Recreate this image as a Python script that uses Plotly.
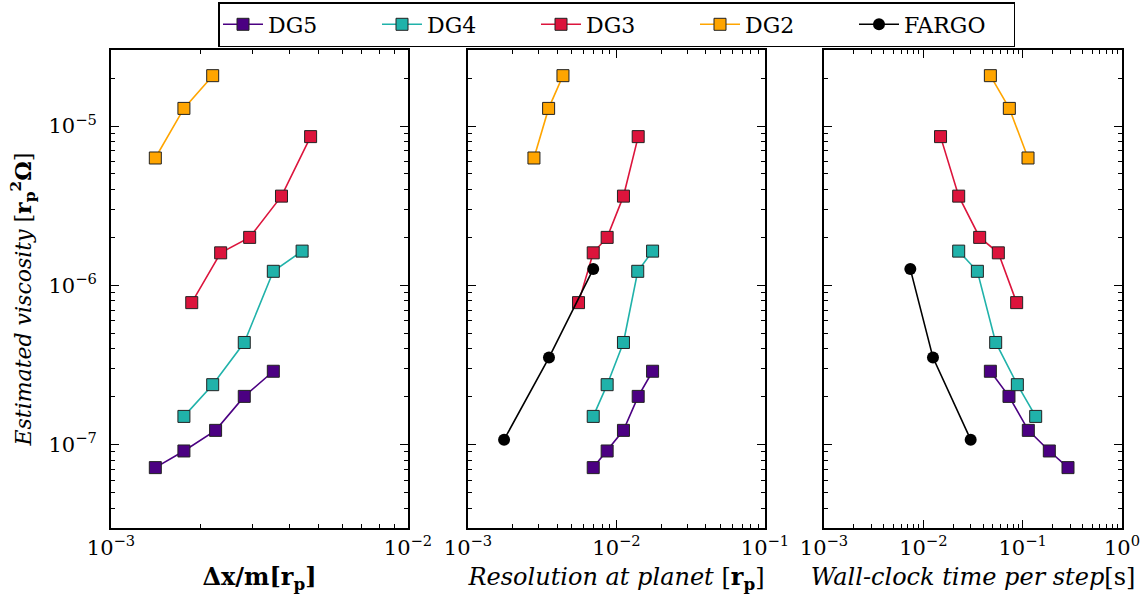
import plotly.graph_objects as go

# ---- data -------------------------------------------------------------
# Panel 1: Δx/m
dx_dg5 = [1.41e-3, 1.76e-3, 2.25e-3, 2.81e-3, 3.52e-3]
dx_dg4 = [1.76e-3, 2.20e-3, 2.81e-3, 3.52e-3, 4.40e-3]
dx_dg3 = [1.87e-3, 2.34e-3, 2.93e-3, 3.75e-3, 4.70e-3]
dx_dg2 = [1.41e-3, 1.76e-3, 2.20e-3]

# Panel 2: resolution at planet
res_dg5 = [6.97e-3, 8.65e-3, 1.114e-2, 1.40e-2, 1.75e-2]
res_dg4 = [6.97e-3, 8.65e-3, 1.114e-2, 1.39e-2, 1.75e-2]
res_dg3 = [5.55e-3, 6.97e-3, 8.65e-3, 1.114e-2, 1.40e-2]
res_dg2 = [2.78e-3, 3.49e-3, 4.36e-3]
res_fargo = [1.75e-3, 3.51e-3, 6.97e-3]

# Panel 3: wall-clock time per step
time_dg5 = [0.286, 0.1855, 0.114, 7.28e-2, 4.73e-2]
time_dg4 = [0.1352, 8.84e-2, 5.35e-2, 3.50e-2, 2.27e-2]
time_dg3 = [8.70e-2, 5.69e-2, 3.69e-2, 2.27e-2, 1.49e-2]
time_dg2 = [0.1132, 7.34e-2, 4.73e-2]
time_fargo = [2.996e-2, 1.251e-2, 7.40e-3]

# Estimated viscosity (shared by all panels)
visc_dg5 = [7.18e-8, 9.13e-8, 1.23e-7, 2.01e-7, 2.89e-7]
visc_dg4 = [1.505e-7, 2.38e-7, 4.38e-7, 1.225e-6, 1.64e-6]
visc_dg3 = [7.79e-7, 1.60e-6, 2.00e-6, 3.63e-6, 8.58e-6]
visc_dg2 = [6.30e-6, 1.29e-5, 2.07e-5]
visc_fargo = [1.075e-7, 3.52e-7, 1.265e-6]

series_names = ["DG5", "DG4", "DG3", "DG2", "FARGO"]
colors = {"DG5": "#4B0082", "DG4": "#20B2AA", "DG3": "#DC143C",
          "DG2": "#FFA500", "FARGO": "#000000"}

panels = [
    {"DG5": (dx_dg5, visc_dg5), "DG4": (dx_dg4, visc_dg4),
     "DG3": (dx_dg3, visc_dg3), "DG2": (dx_dg2, visc_dg2)},
    {"DG5": (res_dg5, visc_dg5), "DG4": (res_dg4, visc_dg4),
     "DG3": (res_dg3, visc_dg3), "DG2": (res_dg2, visc_dg2),
     "FARGO": (res_fargo, visc_fargo)},
    {"DG5": (time_dg5, visc_dg5), "DG4": (time_dg4, visc_dg4),
     "DG3": (time_dg3, visc_dg3), "DG2": (time_dg2, visc_dg2),
     "FARGO": (time_fargo, visc_fargo)},
]

x_ranges = [(-3, -2), (-3, -1), (-3, 0)]
y_range = (-7.5229, -4.5229)

FONT = "DejaVu Serif"

fig = go.Figure()
shown = set()
for i, panel in enumerate(panels):
    xa = "x" if i == 0 else f"x{i+1}"
    ya = "y" if i == 0 else f"y{i+1}"
    for name in series_names:
        if name not in panel:
            continue
        xs, ys = panel[name]
        is_fargo = name == "FARGO"
        fig.add_trace(go.Scatter(
            x=xs, y=ys, xaxis=xa, yaxis=ya, mode="lines+markers",
            name=name, legendgroup=name, showlegend=name not in shown,
            line=dict(color=colors[name], width=1.6),
            marker=dict(
                symbol="circle" if is_fargo else "square",
                size=12,
                color=colors[name],
                line=dict(color="#222222", width=0 if is_fargo else 1),
            ),
        ))
        shown.add(name)

# plot area spans 111..1122 px horizontally, 50..528 px vertically
L, R, T, B = 111, 26, 50, 72
W = 1148 - L - R
domains = [(0.0, 297 / W), ((468 - L) / W, (765 - L) / W), ((824 - L) / W, 1.0)]
x_titles = [
    "<b>Δx/m[r<sub>p</sub>]</b>",
    "<i>Resolution at planet</i> [<b>r<sub>p</sub></b>]",
    "<i>Wall-clock time per step</i>[s]",
]


def sup(e):
    return f"10<sup>{'−' + str(-e) if e < 0 else e}</sup>"


tick_font = dict(family=FONT, size=21, color="black")
title_font = dict(family=FONT, size=24, color="black")
for i in range(3):
    key = "xaxis" if i == 0 else f"xaxis{i+1}"
    lo, hi = x_ranges[i]
    decades = list(range(lo, hi + 1))
    fig.layout[key] = dict(
        type="log", domain=list(domains[i]), range=[lo, hi],
        anchor="y" if i == 0 else f"y{i+1}",
        tickvals=[10.0 ** d for d in decades],
        ticktext=[sup(d) for d in decades],
        ticks="inside", ticklen=8, tickwidth=1, tickcolor="black",
        minor=dict(ticks="inside", ticklen=4, tickwidth=1,
                   tickcolor="black", dtick="D1", showgrid=False),
        showline=True, linecolor="black", linewidth=2, mirror="allticks",
        showgrid=False, zeroline=False, tickfont=tick_font,
        title=dict(text=x_titles[i], font=title_font, standoff=9),
    )
    ykey = "yaxis" if i == 0 else f"yaxis{i+1}"
    fig.layout[ykey] = dict(
        type="log", domain=[0, 1], range=list(y_range),
        anchor="x" if i == 0 else f"x{i+1}",
        tickvals=[1e-7, 1e-6, 1e-5], ticktext=[sup(-7), sup(-6), sup(-5)],
        showticklabels=(i == 0),
        ticks="inside", ticklen=8, tickwidth=1, tickcolor="black",
        minor=dict(ticks="inside", ticklen=4, tickwidth=1,
                   tickcolor="black", dtick="D1", showgrid=False),
        showline=True, linecolor="black", linewidth=2, mirror="allticks",
        showgrid=False, zeroline=False, tickfont=tick_font,
        ticklabelstandoff=8,
    )

fig.add_annotation(
    text="<i>Estimated viscosity</i> [<b>r<sub>p</sub><sup>2</sup>Ω</b>]",
    xref="paper", yref="paper", x=(23 - L) / W, y=0.478,
    xanchor="center", yanchor="middle", textangle=-90,
    showarrow=False, font=dict(family=FONT, size=22, color="black"),
)

fig.update_layout(
    width=1148, height=600,
    margin=dict(l=L, r=R, t=T, b=B, autoexpand=False),
    paper_bgcolor="white", plot_bgcolor="white",
    font=dict(family=FONT, color="black"),
    legend=dict(
        orientation="h", x=(616.5 - L) / W, xanchor="center",
        y=1 + 48 / 478, yanchor="top",
        bgcolor="white", bordercolor="black", borderwidth=1.5,
        font=dict(family=FONT, size=22, color="black"),
        itemwidth=40, entrywidth=104,
    ),
)

fig.write_html("out.html")
